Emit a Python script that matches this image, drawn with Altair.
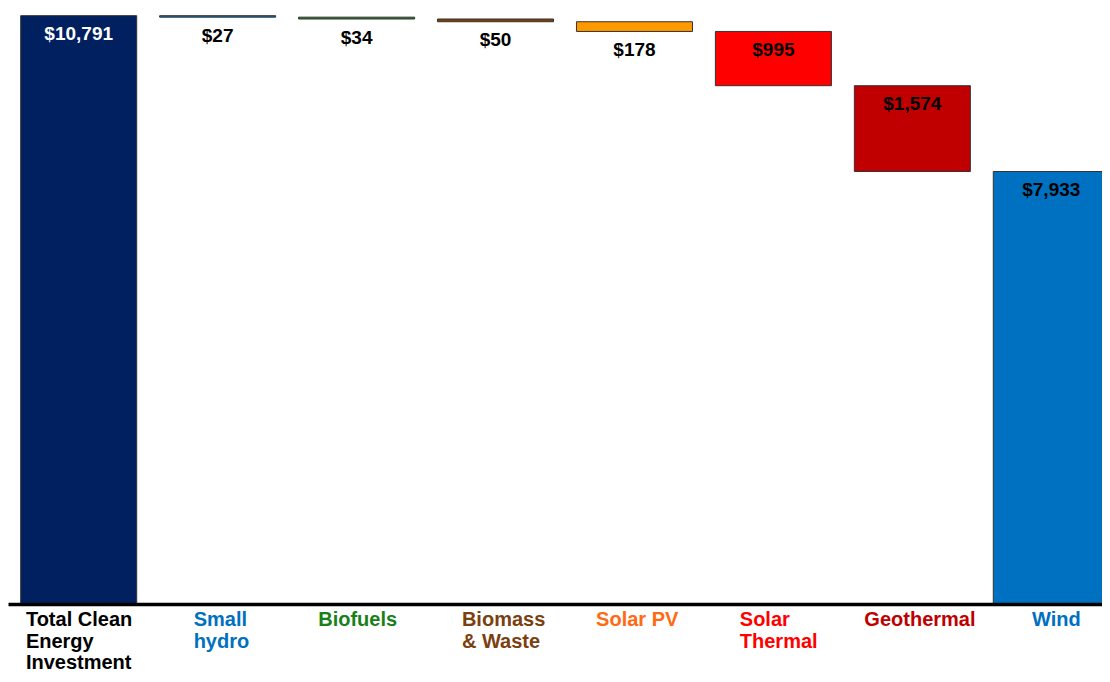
import altair as alt
import pandas as pd

# ---- data ----
categories = ["Total Clean Energy Investment", "Small hydro", "Biofuels", "Biomass & Waste",
              "Solar PV", "Solar Thermal", "Geothermal", "Wind"]
label_lines = ["Total Clean|Energy|Investment", "Small|hydro", "Biofuels", "Biomass|& Waste",
               "Solar PV", "Solar|Thermal", "Geothermal", "Wind"]
amounts = [10791, 27, 34, 50, 178, 995, 1574, 7933]

# ---- styles ----
BAR_COLORS = ["#002060", "#0070C0", "#1A801A", "#7F3F00", "#FF9900", "#FF0000", "#C00000", "#0070C0"]
LABEL_COLORS = ["#000000", "#0070C0", "#1A801A", "#7A4010", "#FF6A13", "#FF0000", "#C00000", "#0070C0"]

# waterfall: first bar is the total from zero, every later bar steps down from the running level
rows = []
level = 0
for i, (c, lab, v) in enumerate(zip(categories, label_lines, amounts)):
    if i == 0:
        lower, upper = 0, v
        level = v
    else:
        upper, lower = level, level - v
        level = lower
    rows.append({
        "idx": i, "cat": c, "lab": lab, "amount": v,
        "lower": lower, "upper": upper,
        "vlabel": f"${v:,}",
        "bar_color": BAR_COLORS[i], "label_color": LABEL_COLORS[i],
    })
df = pd.DataFrame(rows)

FONT = "Liberation Sans"

# the reference is cropped on the right: the band range runs a little past the visible width
x_enc = alt.X(
    "cat:N", sort=categories, title=None,
    scale=alt.Scale(range=[0, 1114], paddingInner=0.165, paddingOuter=0.0914),
    axis=alt.Axis(labels=False, ticks=False, domain=True, domainColor="#000000",
                  domainWidth=3.5, grid=False, zindex=1),
)
y_scale = alt.Scale(domain=[0, 10932], nice=False, zero=True)

base = alt.Chart(df)

bars = base.mark_bar(stroke="#333333", strokeWidth=1).encode(
    x=x_enc,
    y=alt.Y("lower:Q", scale=y_scale, axis=None),
    y2="upper:Q",
    color=alt.Color("bar_color:N", scale=None),
)

values = base.transform_calculate(
    anchor="(datum.upper - datum.lower) < 500 ? datum.lower : datum.upper"
).mark_text(font=FONT, fontWeight="bold", fontSize=19, baseline="middle", dy=18.5).encode(
    x=alt.X("cat:N", sort=categories),
    y=alt.Y("anchor:Q", scale=y_scale),
    text="vlabel:N",
    color=alt.condition("datum.idx == 0", alt.value("#FFFFFF"), alt.value("#000000")),
)

cat_labels = base.transform_calculate(
    maxlen="max(length(split(datum.lab,'|')[0]), length(split(datum.lab,'|')[1] || ''), length(split(datum.lab,'|')[2] || ''))"
).mark_text(
    font=FONT, fontWeight="bold", fontSize=20, align="left", baseline="alphabetic",
    lineBreak="|", lineHeight=21.5, dx=alt.expr("-4.8 * datum.maxlen"),
).encode(
    x=alt.X("cat:N", sort=categories),
    y=alt.value(618),
    text="lab:N",
    color=alt.Color("label_color:N", scale=None),
)

chart = alt.layer(bars, values, cat_labels).properties(
    width=1094, height=596,
    autosize=alt.AutoSizeParams(type="none"),
    padding={"left": 0, "top": 0, "right": 0, "bottom": 70},
).configure(background="#FFFFFF").configure_view(stroke=None)

chart.save("out.html", embed_options={"renderer": "svg", "actions": False})
